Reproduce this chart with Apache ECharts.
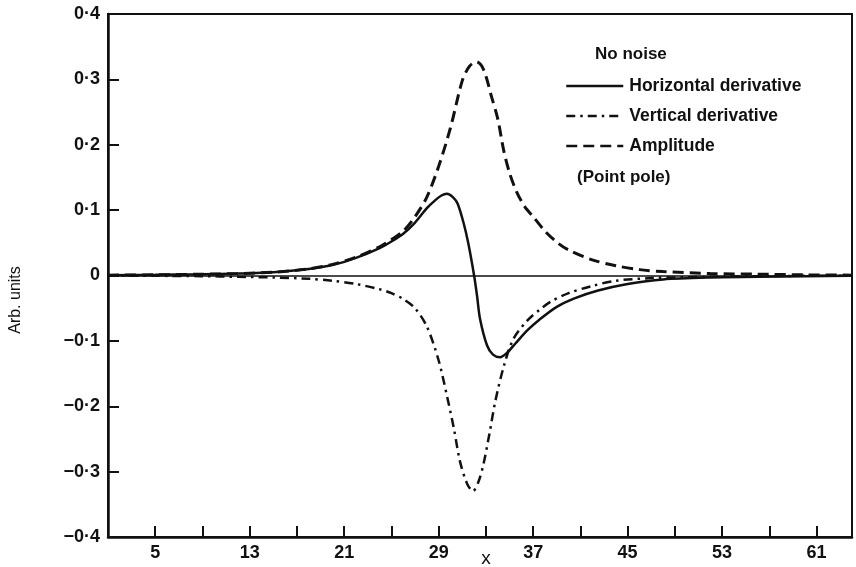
<!DOCTYPE html>
<html lang="en">
<head>
<meta charset="UTF-8">
<title>Point pole derivatives</title>
<style>
  html, body { margin: 0; padding: 0; background: #fff; }
</style>
</head>
<body>
<div id="main" style="width: 856px;height:567px;"></div>

<script src="https://cdn.jsdelivr.net/npm/echarts@6/dist/echarts.min.js"></script>
<script>
    // values
    var ampX = [1, 5, 9, 12, 15, 18, 20, 22, 24, 25, 26, 27, 28, 29, 30, 31, 31.6, 32.2, 32.8, 33.5,
                34, 34.5, 35, 35.6, 36.3, 37, 38, 39, 40, 42, 44, 46, 48, 52, 56, 60, 64];
    var ampY = [0.0005, 0.001, 0.002, 0.003, 0.005, 0.010, 0.017, 0.028, 0.044, 0.055,
                0.068, 0.090, 0.120, 0.167, 0.226, 0.298, 0.320, 0.327, 0.315, 0.272,
                0.240, 0.192, 0.157, 0.128, 0.105, 0.090, 0.068, 0.051, 0.039, 0.024, 0.015,
                0.009, 0.006, 0.003, 0.002, 0.001, 0.0005];

    var hdX = [1, 5, 9, 12, 15, 18, 20, 22, 24, 25, 26, 27, 28, 28.7, 29.2, 29.7, 30.2, 30.6, 31.1, 31.5,
               32, 32.25, 32.5, 33.1, 33.6, 34.2, 34.8, 35.5, 36.5, 37.5, 39, 40.5, 42.5, 45, 48, 52,
               56, 60, 64];
    var hdY = [0.0005, 0.001, 0.002, 0.003, 0.005, 0.010, 0.016, 0.027, 0.042, 0.052,
               0.064, 0.081, 0.103, 0.115, 0.122, 0.125, 0.120, 0.110, 0.081, 0.050,
               0.0, -0.031, -0.066, -0.107, -0.121, -0.125, -0.118, -0.104, -0.084, -0.068,
               -0.048, -0.035, -0.023, -0.013, -0.006, -0.003, -0.002, -0.001, -0.0005];

    var vdX = [1, 5, 9, 12, 15, 18, 20, 22, 24, 25, 26, 27, 28, 29, 29.7, 30.3, 30.8, 31.4, 31.9, 32.4,
               32.8, 33.3, 33.8, 34.5, 35.3, 36.5, 37.5, 38.5, 40, 42, 44, 47, 52, 56, 60, 64];
    var vdY = [-0.0003, -0.0005, -0.001, -0.002, -0.003, -0.005, -0.008, -0.013, -0.021, -0.027,
               -0.036, -0.050, -0.078, -0.130, -0.184, -0.235, -0.284, -0.318, -0.330, -0.314,
               -0.288, -0.242, -0.192, -0.140, -0.098, -0.069, -0.053, -0.040, -0.027, -0.016,
               -0.008, -0.004, -0.002, -0.001, -0.0005, -0.0003];

    // tick marks and labels
    var xTicks = [5, 9, 13, 17, 21, 25, 29, 33, 37, 41, 45, 49, 53, 57, 61];
    var xLabelValues = [5, 13, 21, 29, 33, 37, 45, 53, 61];
    var xLabelTexts = ['5', '13', '21', '29', 'x', '37', '45', '53', '61'];
    var yTicks = [-0.4, -0.3, -0.2, -0.1, 0, 0.1, 0.2, 0.3, 0.4];
    var yLabelTexts = ['\u22120\u00b74', '\u22120\u00b73', '\u22120\u00b72', '\u22120\u00b71', '0',
                       '0\u00b71', '0\u00b72', '0\u00b73', '0\u00b74'];

    var seriesNames = ['Horizontal derivative', 'Vertical derivative', 'Amplitude'];

    function pairs(xs, ys) {
        var out = [];
        for (var i = 0; i < xs.length; i++) out.push([xs[i], ys[i]]);
        return out;
    }

    var FONT = '"Liberation Sans", Arial, sans-serif';
    var INK = '#111';

    var myChart = echarts.init(document.getElementById('main'));

    var option = {
        backgroundColor: '#fff',
        animation: false,
        color: [INK, INK, INK],
        grid: {
            left: 108, right: 4, top: 14, bottom: 30,
            outerBoundsMode: 'none',
            show: true, borderColor: INK, borderWidth: 2
        },
        legend: {
            data: seriesNames,
            orient: 'vertical',
            left: 560,
            top: 72,
            itemWidth: 57,
            itemHeight: 20,
            itemGap: 12,
            selectedMode: false,
            itemStyle: { opacity: 0 },
            lineStyle: { width: 2.5 },
            textStyle: { fontFamily: FONT, fontSize: 17.5, fontWeight: 'bold', color: INK, padding: [0, 0, 0, 1] }
        },
        graphic: [
            { type: 'text', left: 595, top: 46,
              style: { text: 'No noise', font: 'bold 17px ' + FONT, fill: INK } },
            { type: 'text', left: 577, top: 169,
              style: { text: '(Point pole)', font: 'bold 17px ' + FONT, fill: INK } },
            { type: 'text', x: 16, y: 300, rotation: Math.PI / 2,
              style: { text: 'Arb. units', font: '16px ' + FONT, fill: INK,
                       align: 'center', verticalAlign: 'middle' } }
        ],
        xAxis: {
            type: 'value',
            min: 1,
            max: 64,
            splitLine: { show: false },
            axisLine: { onZero: false, lineStyle: { color: INK, width: 2.5 } },
            axisTick: { inside: true, length: 11, customValues: xTicks,
                        lineStyle: { color: INK, width: 2 } },
            axisLabel: {
                customValues: xLabelValues,
                margin: 7,
                fontFamily: FONT, fontSize: 18, fontWeight: 'bold', color: INK,
                formatter: function (v) {
                    var i = xLabelValues.indexOf(v);
                    if (i < 0) return '';
                    return v === 33 ? '{n|' + xLabelTexts[i] + '}' : xLabelTexts[i];
                },
                rich: { n: { fontFamily: FONT, fontSize: 19, fontWeight: 'normal', color: INK, padding: [5, 0, 0, 0] } }
            }
        },
        yAxis: {
            type: 'value',
            min: -0.4,
            max: 0.4,
            interval: 0.1,
            splitLine: { show: false },
            axisLine: { onZero: false, lineStyle: { color: INK, width: 2.5 } },
            axisTick: { inside: true, length: 11, lineStyle: { color: INK, width: 2 } },
            axisLabel: {
                margin: 8,
                fontFamily: FONT, fontSize: 18, fontWeight: 'bold', color: INK,
                formatter: function (v) {
                    for (var i = 0; i < yTicks.length; i++) {
                        if (Math.abs(yTicks[i] - v) < 1e-6) return yLabelTexts[i];
                    }
                    return '';
                }
            }
        },
        series: [
            {
                name: seriesNames[0],
                type: 'line',
                data: pairs(hdX, hdY),
                showSymbol: false, symbol: 'none',
                smooth: 0.3,
                lineStyle: { color: INK, width: 2.5, type: 'solid' },
                z: 3,
                markLine: {
                    silent: true,
                    symbol: 'none',
                    label: { show: false },
                    lineStyle: { color: INK, width: 1.5, type: 'solid' },
                    data: [{ yAxis: 0 }]
                }
            },
            {
                name: seriesNames[1],
                type: 'line',
                data: pairs(vdX, vdY),
                showSymbol: false, symbol: 'none',
                smooth: 0.3,
                lineStyle: { color: INK, width: 2.5, type: [9, 5, 2.5, 5] },
                z: 3
            },
            {
                name: seriesNames[2],
                type: 'line',
                data: pairs(ampX, ampY),
                showSymbol: false, symbol: 'none',
                smooth: 0.3,
                lineStyle: { color: INK, width: 3, type: [11, 6] },
                z: 3
            }
        ]
    };

    myChart.setOption(option);
</script>
</body>
</html>
